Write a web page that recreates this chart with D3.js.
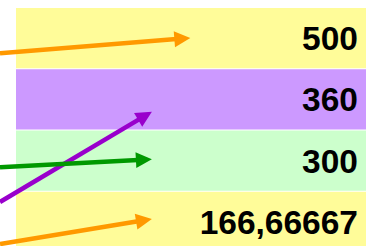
<!DOCTYPE html>
<html>
<head>
<meta charset="utf-8">
<script src="https://cdn.jsdelivr.net/npm/d3@7"></script>
<style>
  body { margin: 0; background: #ffffff; }
  svg { display: block; }
</style>
</head>
<body>
<svg id="chart" width="366" height="246"></svg>
<script>
// rows of the table, top to bottom
var rows = ["a", "b", "c", "d"];
var rowLabels = ["500", "360", "300", "166,66667"];
var rowColors = ["#FFFC99", "#CC99FF", "#CCFFCC", "#FFFC99"];

// arrows coming in from the left: row position (in row units) at start and tip
var arrowColors = ["#FF9900", "#9900CC", "#009900", "#FF9900"];
var arrowFromRow = [0.74, 3.18, 2.61, 3.87];
var arrowToRow = [0.49, 1.70, 2.48, 3.46];
var arrowToX = [52, 41.5, 41.5, 41.5]; // percent of width

var svg = d3.select("#chart");
var width = 366;
var headLen = 16, headHalf = 8;

var rowScale = d3.scaleBand()
  .domain(rows)
  .range([8, 252])
  .paddingInner(1 / 61)
  .paddingOuter(0);

var rowPos = d3.scaleLinear()
  .domain([0, rows.length])
  .range([8, 252]);

var xScale = d3.scaleLinear()
  .domain([0, 100])
  .range([0, width]);

svg.selectAll(".band")
  .data(rows)
  .enter()
  .append("rect")
  .attr("class", "band")
  .attr("x", 16)
  .attr("y", function(d) { return rowScale(d); })
  .attr("width", width - 16 + 10)
  .attr("height", rowScale.bandwidth())
  .attr("fill", function(d, i) { return rowColors[i]; });

svg.selectAll(".label")
  .data(rows)
  .enter()
  .append("text")
  .attr("class", "label")
  .attr("x", 358)
  .attr("y", function(d) { return rowScale(d) + rowScale.bandwidth() / 2; })
  .attr("dy", "0.36em")
  .attr("text-anchor", "end")
  .attr("font-family", "Arial, 'Liberation Sans', sans-serif")
  .attr("font-weight", "bold")
  .attr("font-size", "33.5px")
  .attr("fill", "#000000")
  .text(function(d, i) { return rowLabels[i]; });

var arrows = arrowColors.map(function(c, i) {
  var x1 = xScale(0), y1 = rowPos(arrowFromRow[i]);
  var x2 = xScale(arrowToX[i]), y2 = rowPos(arrowToRow[i]);
  var len = Math.hypot(x2 - x1, y2 - y1);
  var ux = (x2 - x1) / len, uy = (y2 - y1) / len;
  return { color: c, x1: x1, y1: y1, x2: x2, y2: y2, ux: ux, uy: uy };
});

var arrowG = svg.selectAll(".arrow")
  .data(arrows)
  .enter()
  .append("g")
  .attr("class", "arrow");

arrowG.append("line")
  .attr("x1", function(d) { return d.x1; })
  .attr("y1", function(d) { return d.y1; })
  .attr("x2", function(d) { return d.x2 - d.ux * (headLen - 2); })
  .attr("y2", function(d) { return d.y2 - d.uy * (headLen - 2); })
  .attr("stroke", function(d) { return d.color; })
  .attr("stroke-width", 4.5);

arrowG.append("path")
  .attr("d", function(d) {
    var bx = d.x2 - d.ux * headLen, by = d.y2 - d.uy * headLen;
    var px = -d.uy * headHalf, py = d.ux * headHalf;
    return "M" + d.x2 + "," + d.y2 +
      "L" + (bx + px) + "," + (by + py) +
      "L" + (bx - px) + "," + (by - py) + "Z";
  })
  .attr("fill", function(d) { return d.color; });
</script>
</body>
</html>
